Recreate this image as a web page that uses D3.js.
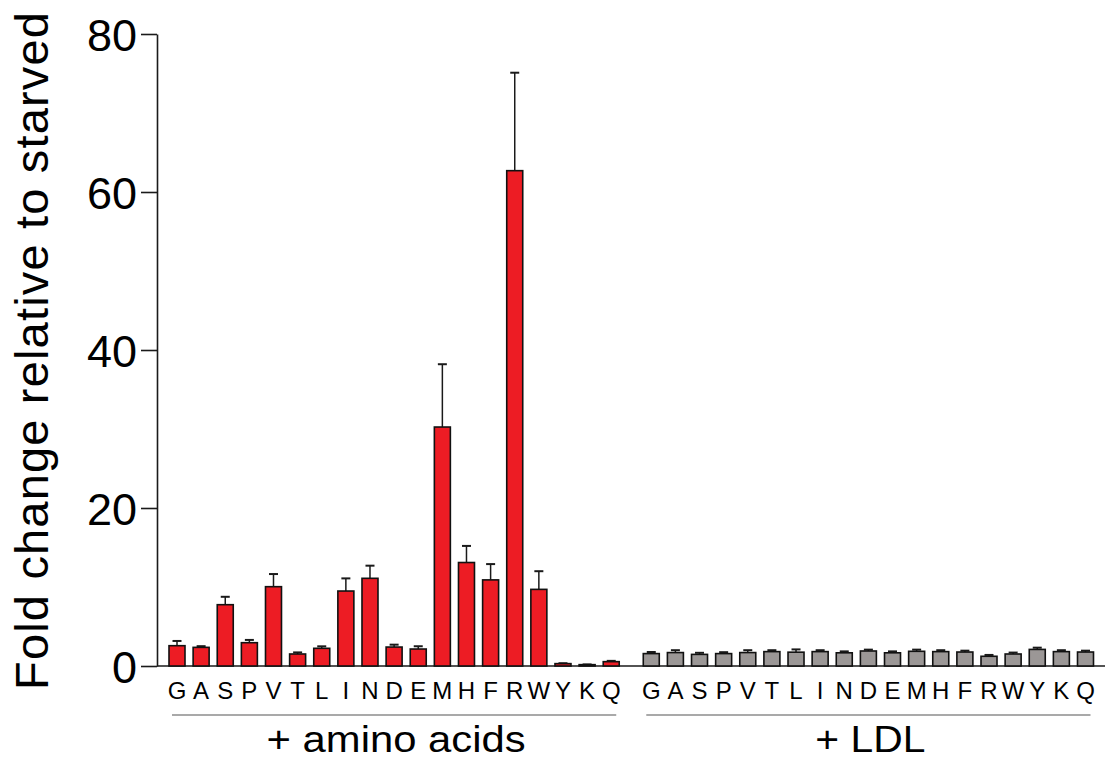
<!DOCTYPE html>
<html>
<head>
<meta charset="utf-8">
<script src="https://cdn.jsdelivr.net/npm/d3@7"></script>
<style>
  html, body { margin: 0; padding: 0; background: #fff; }
  svg { display: block; font-family: "Liberation Sans", Arial, sans-serif; }
</style>
</head>
<body>
<div id="chart"></div>
<script>
// amino acid order on x axis
const aminoAcids = ['G','A','S','P','V','T','L','I','N','D','E','M','H','F','R','W','Y','K','Q'];

// + amino acids (red)
const aaMeans = [2.57, 2.36, 7.76, 2.95, 10.04, 1.52, 2.24, 9.49, 11.1, 2.4, 2.15, 30.25, 13.1, 10.9, 62.7, 9.7, 0.3, 0.17, 0.55];
const aaErrors = [0.6, 0.15, 1.0, 0.35, 1.6, 0.2, 0.25, 1.6, 1.6, 0.3, 0.35, 7.95, 2.1, 2.0, 12.4, 2.3, 0.05, 0.03, 0.1];

// + LDL (gray)
const ldlMeans = [1.57, 1.7, 1.47, 1.57, 1.7, 1.82, 1.75, 1.82, 1.67, 1.9, 1.67, 1.86, 1.82, 1.77, 1.23, 1.52, 2.1, 1.82, 1.77];
const ldlErrors = [0.2, 0.3, 0.2, 0.18, 0.3, 0.18, 0.35, 0.18, 0.18, 0.17, 0.18, 0.21, 0.18, 0.17, 0.17, 0.18, 0.22, 0.18, 0.17];

const yTicks = [0, 20, 40, 60, 80];
const groupLabels = ['+ amino acids', '+ LDL'];
const groupColors = ['#ed1c24', '#9b9796'];

const width = 1105, height = 761;
const gapSteps = 1.66; // extra space between the two groups, in bar steps

const svg = d3.select('#chart').append('svg')
  .attr('width', width)
  .attr('height', height);

// y scale: 0 at baseline, 80 at top tick
const y = d3.scaleLinear().domain([0, 80]).range([666, 34]);

// x position by slot index
const nSlots = (aminoAcids.length - 1) * 2 + gapSteps;
const x = d3.scaleLinear().domain([0, nSlots]).range([177, 1085.5]);
const barW = 16;

const groups = [
  { label: groupLabels[0], color: groupColors[0], offset: 0, labelW: 259,
    data: aminoAcids.map((a, i) => ({ aa: a, mean: aaMeans[i], err: aaErrors[i] })) },
  { label: groupLabels[1], color: groupColors[1], offset: aminoAcids.length - 1 + gapSteps, labelW: 110,
    data: aminoAcids.map((a, i) => ({ aa: a, mean: ldlMeans[i], err: ldlErrors[i] })) }
];

// y axis
const yAxis = svg.append('g')
  .attr('transform', 'translate(157,0)')
  .call(d3.axisLeft(y).tickValues(yTicks).tickSize(16).tickSizeOuter(0).tickPadding(4));
yAxis.select('.domain').attr('stroke', '#1a1a1a').attr('stroke-width', 1.6);
yAxis.selectAll('.tick line').attr('stroke', '#1a1a1a').attr('stroke-width', 1.6);
yAxis.selectAll('.tick text')
  .attr('fill', '#000')
  .style('font-size', '45px')
  .attr('dy', '0.36em');

// y title
svg.append('text')
  .attr('transform', 'translate(48,351) rotate(-90)')
  .attr('text-anchor', 'middle')
  .attr('textLength', 678)
  .attr('lengthAdjust', 'spacing')
  .style('font-size', '47px')
  .attr('fill', '#000')
  .text('Fold change relative to starved');

// x baseline
svg.append('line')
  .attr('x1', 157).attr('x2', width)
  .attr('y1', y(0)).attr('y2', y(0))
  .attr('stroke', '#1a1a1a').attr('stroke-width', 1.6);

groups.forEach(g => {
  const gx = (d, i) => x(g.offset + i);
  const layer = svg.append('g');

  // error bars (drawn behind the bars, upward only)
  layer.selectAll('.err')
    .data(g.data)
    .enter()
    .append('line')
    .attr('x1', gx).attr('x2', gx)
    .attr('y1', d => y(d.mean))
    .attr('y2', d => y(d.mean + d.err))
    .attr('stroke', '#1a1a1a')
    .attr('stroke-width', 1.5);

  layer.selectAll('.cap')
    .data(g.data)
    .enter()
    .append('line')
    .attr('x1', (d, i) => gx(d, i) - 4.5)
    .attr('x2', (d, i) => gx(d, i) + 4.5)
    .attr('y1', d => y(d.mean + d.err))
    .attr('y2', d => y(d.mean + d.err))
    .attr('stroke', '#1a1a1a')
    .attr('stroke-width', 2);

  layer.selectAll('.bar')
    .data(g.data)
    .enter()
    .append('rect')
    .attr('x', (d, i) => gx(d, i) - barW / 2)
    .attr('y', d => y(d.mean))
    .attr('width', barW)
    .attr('height', d => y(0) - y(d.mean))
    .attr('fill', g.color)
    .attr('stroke', '#111')
    .attr('stroke-width', 1.6);

  // amino acid letters
  layer.selectAll('.aa')
    .data(g.data)
    .enter()
    .append('text')
    .attr('x', gx)
    .attr('y', 699)
    .attr('text-anchor', 'middle')
    .style('font-size', '24px')
    .attr('fill', '#000')
    .text(d => d.aa);

  // group underline
  const x0 = x(g.offset) - 5;
  const x1 = x(g.offset + aminoAcids.length - 1) + 5;
  layer.append('line')
    .attr('x1', x0).attr('x2', x1)
    .attr('y1', 715).attr('y2', 715)
    .attr('stroke', '#555')
    .attr('stroke-width', 1.2);

  layer.append('text')
    .attr('x', (x0 + x1) / 2 + 2)
    .attr('y', 752)
    .attr('text-anchor', 'middle')
    .attr('textLength', g.labelW)
    .attr('lengthAdjust', 'spacingAndGlyphs')
    .style('font-size', '37px')
    .attr('fill', '#000')
    .text(g.label);
});
</script>
</body>
</html>
